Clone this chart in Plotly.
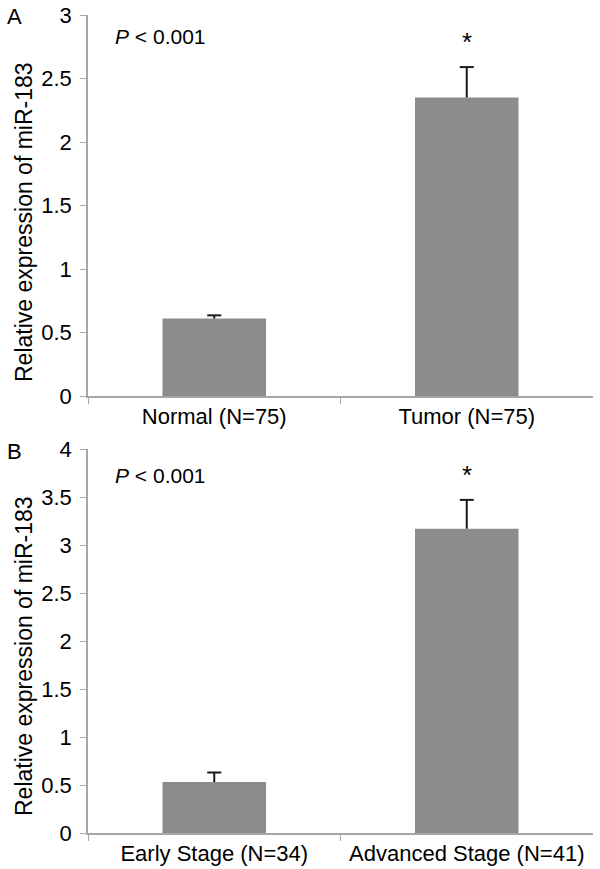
import plotly.graph_objects as go

# Panel A data
cats_a = ["Normal (N=75)", "Tumor (N=75)"]
vals_a = [0.61, 2.35]
err_a = [0.025, 0.24]

# Panel B data
cats_b = ["Early Stage (N=34)", "Advanced Stage (N=41)"]
vals_b = [0.53, 3.17]
err_b = [0.10, 0.30]

yticks_a = [0, 0.5, 1, 1.5, 2, 2.5, 3]
yticks_b = [0, 0.5, 1, 1.5, 2, 2.5, 3, 3.5, 4]

W, H = 600, 869
BAR = "#8c8c8c"
AX = "#a6a6a6"
ERR = "#1a1a1a"
FONT = "Liberation Sans, Arial, sans-serif"

def py(pix):
    return 1 - pix / H

fig = go.Figure()

def add_panel(cats, vals, errs, xa, ya):
    tops = [v + e for v, e in zip(vals, errs)]
    fig.add_trace(go.Bar(x=cats, y=vals, width=0.41, marker_color=BAR, marker_line_width=0,
                         xaxis=xa, yaxis=ya, showlegend=False, hoverinfo="skip"))
    # one-sided error bar: stem from bar top, cap only at the top
    fig.add_trace(go.Scatter(x=cats, y=tops, mode="markers",
                             marker=dict(symbol="line-ew", size=10, color=ERR,
                                         line=dict(color=ERR, width=2)),
                             error_y=dict(type="data", symmetric=False, array=[0] * len(cats),
                                          arrayminus=errs, color=ERR, thickness=2, width=0),
                             xaxis=xa, yaxis=ya, showlegend=False, hoverinfo="skip"))

add_panel(cats_a, vals_a, err_a, "x", "y")
add_panel(cats_b, vals_b, err_b, "x2", "y2")

xdom = [88 / W, 593 / W]
common_x = dict(showline=True, linecolor=AX, linewidth=1.5, ticks="outside", tickson="boundaries",
                ticklen=6, tickcolor=AX, tickfont=dict(size=22, color="black", family=FONT),
                showgrid=False, zeroline=False, automargin=False, range=[-0.5, 1.5])
common_y = dict(showline=True, linecolor=AX, linewidth=1.5, ticks="outside", ticklen=6, tickcolor=AX,
                tickfont=dict(size=22, color="black", family=FONT), showgrid=False, zeroline=False,
                automargin=False, ticklabelstandoff=4)

fig.update_layout(
    width=W, height=H, margin=dict(l=0, r=0, t=0, b=0, autoexpand=False),
    plot_bgcolor="white", paper_bgcolor="white",
    font=dict(family=FONT, color="black"),
    xaxis=dict(domain=xdom, anchor="y", **common_x),
    yaxis=dict(domain=[py(396), py(15)], anchor="x", range=[0, 3], tickvals=yticks_a, **common_y),
    xaxis2=dict(domain=xdom, anchor="y2", **common_x),
    yaxis2=dict(domain=[py(833), py(449)], anchor="x2", range=[0, 4], tickvals=yticks_b, **common_y),
)

ann = []
# panel letters
ann.append(dict(text="A", x=5 / W, y=py(17), xref="paper", yref="paper", xanchor="left", yanchor="middle",
                showarrow=False, font=dict(size=22, family=FONT)))
ann.append(dict(text="B", x=5 / W, y=py(451), xref="paper", yref="paper", xanchor="left", yanchor="middle",
                showarrow=False, font=dict(size=22, family=FONT)))
# y titles
ann.append(dict(text="Relative expression of miR-183", x=24 / W, y=py(222), xref="paper", yref="paper",
                textangle=-90, showarrow=False, xanchor="center", yanchor="middle",
                font=dict(size=23, family=FONT)))
ann.append(dict(text="Relative expression of miR-183", x=24 / W, y=py(656), xref="paper", yref="paper",
                textangle=-90, showarrow=False, xanchor="center", yanchor="middle",
                font=dict(size=23, family=FONT)))
# p values
ann.append(dict(text="<i>P</i> &lt; 0.001", x=113 / W, y=py(37), xref="paper", yref="paper",
                xanchor="left", yanchor="middle", showarrow=False, font=dict(size=21, family=FONT)))
ann.append(dict(text="<i>P</i> &lt; 0.001", x=113 / W, y=py(475), xref="paper", yref="paper",
                xanchor="left", yanchor="middle", showarrow=False, font=dict(size=21, family=FONT)))
# stars
ann.append(dict(text="*", x=cats_a[1], y=vals_a[1] + err_a[1], xref="x", yref="y", yanchor="bottom",
                yshift=8, showarrow=False, font=dict(size=26, family=FONT)))
ann.append(dict(text="*", x=cats_b[1], y=vals_b[1] + err_b[1], xref="x2", yref="y2", yanchor="bottom",
                yshift=8, showarrow=False, font=dict(size=26, family=FONT)))
fig.update_layout(annotations=ann)

fig.write_html("out.html", config={"displayModeBar": False})

# remove the browser's default page margin so the figure fills the window exactly
with open("out.html", encoding="utf-8") as f:
    html = f.read()
html = html.replace("<head>", "<head><style>html,body{margin:0;padding:0;overflow:hidden}</style>", 1)
with open("out.html", "w", encoding="utf-8") as f:
    f.write(html)
